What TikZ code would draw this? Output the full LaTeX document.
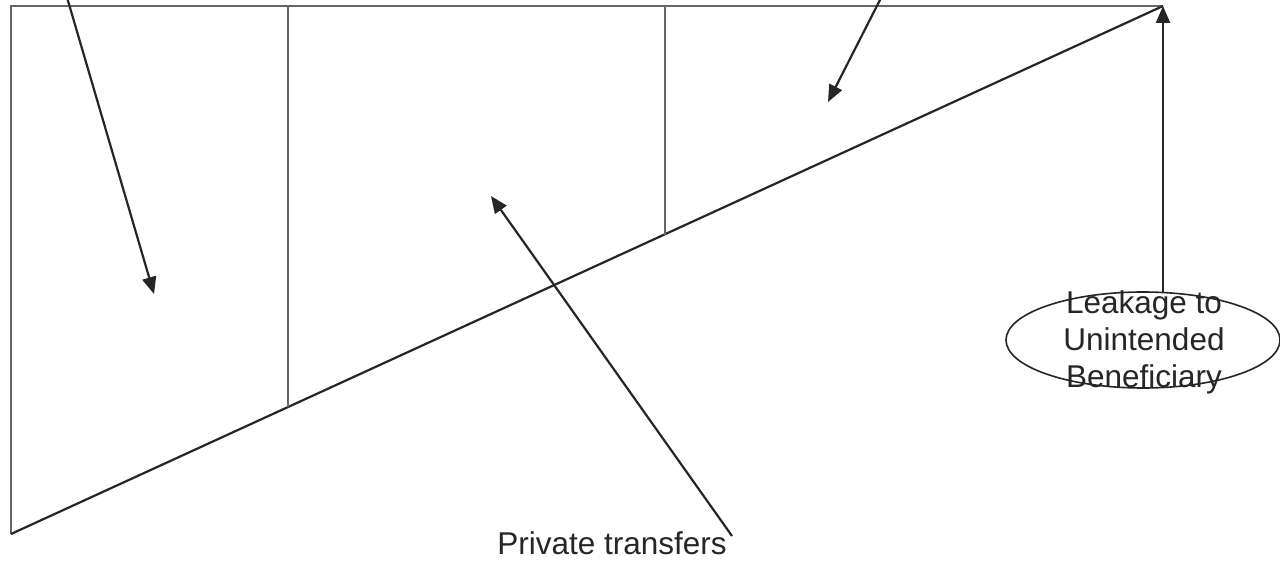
\documentclass[tikz,border=0pt]{standalone}
\usepackage{fontspec}
\setmainfont{Liberation Sans}
\usetikzlibrary{arrows.meta,shapes.geometric}
\begin{document}
\begin{tikzpicture}[x=1pt,y=-1pt,
  frameline/.style={draw=black!60,line width=2.4pt},
  slopeline/.style={draw=black!85,line width=2.2pt},
  pointer/.style={draw=black!85,line width=2.2pt,-{Triangle[length=17pt,width=14pt]}},
  label/.style={font=\fontsize{31.5}{37}\selectfont,text=black!85,align=center,inner sep=0pt}]
\useasboundingbox (0,0) rectangle (1280,561);
\fill[white] (0,0) rectangle (1280,561);
\clip (0,0) rectangle (1280,561);

% corners of the triangle-and-box outline
\coordinate (tl) at (11,6);
\coordinate (bl) at (11,534);
\coordinate (tr) at (1163,6);
\coordinate (d1top) at (288,6);
\coordinate (d1bot) at (288,407);
\coordinate (d2top) at (665,6);
\coordinate (d2bot) at (665,235);

% outline
\draw[frameline] (tr) -- (tl) -- (bl);
\draw[slopeline] (bl) -- (tr);
\draw[frameline] (d1top) -- (d1bot);
\draw[frameline] (d2top) -- (d2bot);

% arrows pointing into the regions
\coordinate (a1s) at (66,-6);
\coordinate (a1e) at (154,294);
\draw[pointer] (a1s) -- (a1e);

\coordinate (a2s) at (883,-6);
\coordinate (a2e) at (828,102);
\draw[pointer] (a2s) -- (a2e);

\coordinate (a3s) at (732,536);
\coordinate (a3e) at (491,196);
\draw[pointer] (a3s) -- (a3e);

% leakage bubble
\node[ellipse,draw=black!85,line width=1.6pt,minimum width=274pt,minimum height=96pt,inner sep=0pt] (leak) at (1143,340) {};
\node[label] (leaktext) at (1144,342) {Leakage to\\Unintended\\Beneficiary};
\coordinate (leaktop) at (1163,293);
\draw[pointer] (leaktop) -- (tr);

% caption
\node[label,anchor=base] (private) at (612,554) {Private transfers};
\end{tikzpicture}
\end{document}
